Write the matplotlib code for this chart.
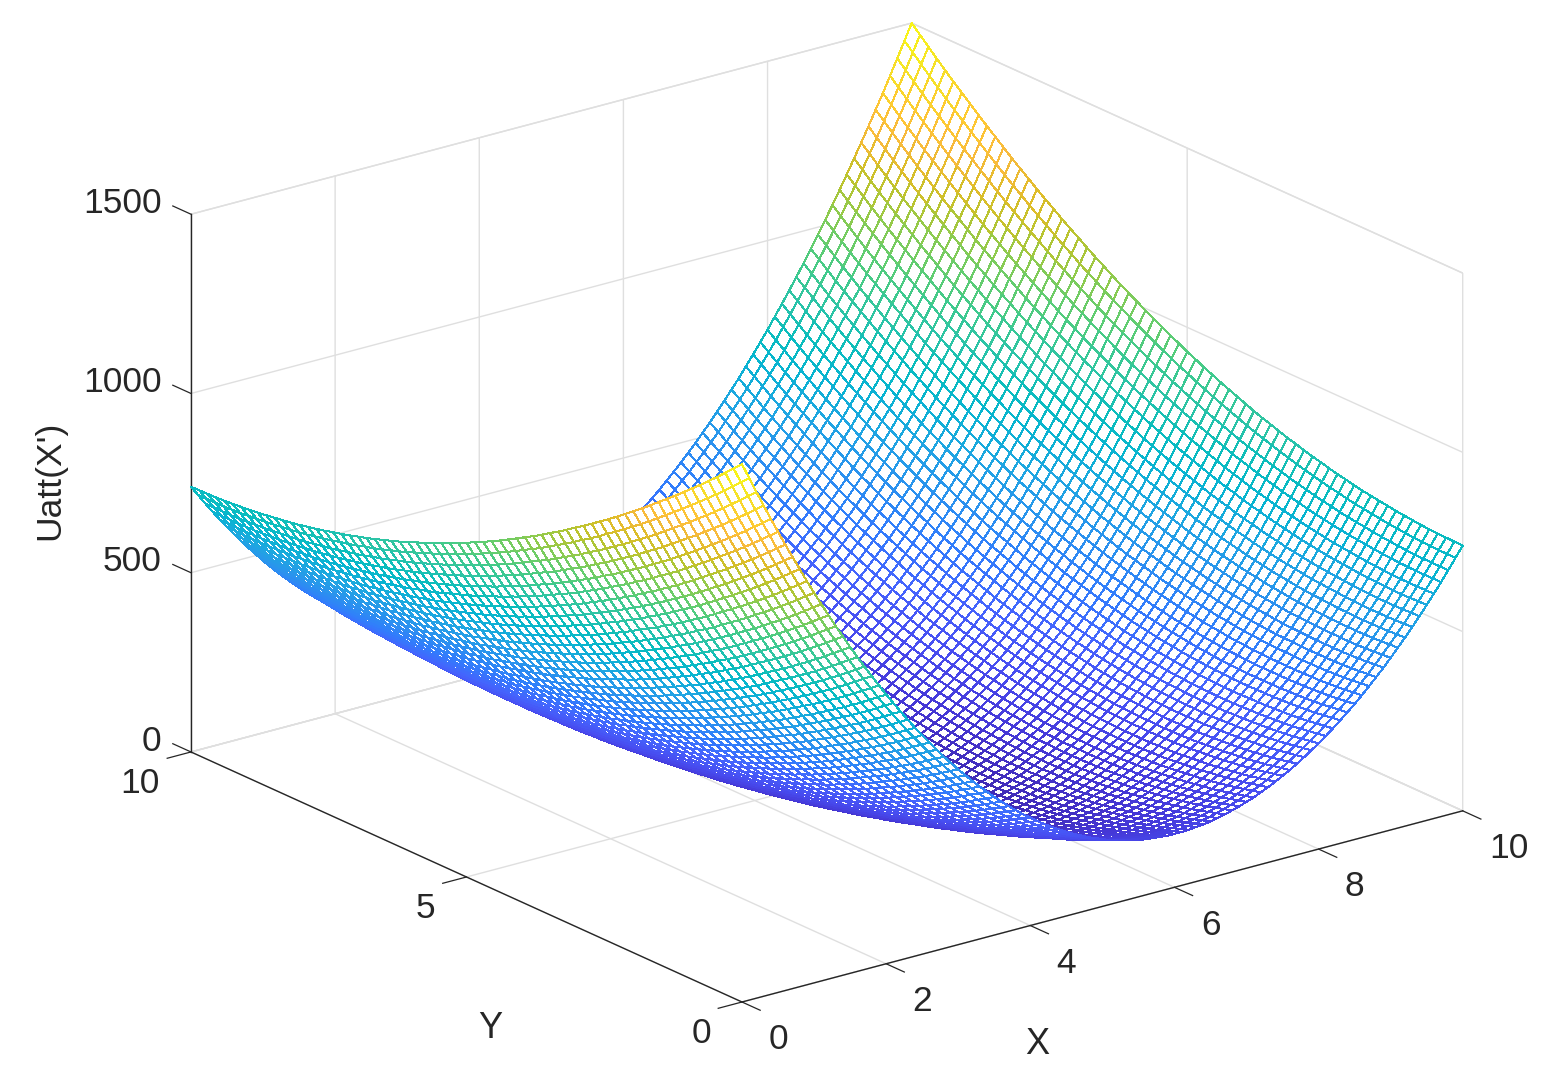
#!/usr/bin/env python

import numpy as np
import matplotlib
matplotlib.use('Agg')
import matplotlib.pyplot as plt
from matplotlib.colors import LinearSegmentedColormap
from mpl_toolkits.mplot3d import proj3d

x_ticks = [0, 2, 4, 6, 8, 10]
y_ticks = [0, 5, 10]
z_ticks = [0, 500, 1000, 1500]

# heights along the y=0 edge, one per mesh line in x
u_edge_y0 = [1500, 1456, 1412, 1369, 1326, 1285, 1244, 1204, 1165, 1126,
             1088, 1051, 1015, 979, 945, 910, 877, 845, 813, 782,
             751, 722, 693, 665, 637, 611, 585, 560, 535, 512,
             489, 467, 445, 425, 405, 385, 367, 349, 332, 316,
             301, 286, 272, 259, 247, 235, 224, 214, 204, 196,
             188, 180, 174, 168, 163, 159, 155, 153, 151, 149,
             149, 149, 150, 152, 154, 157, 161, 166, 172, 178,
             185, 192, 201, 210, 220, 231, 242, 254, 267, 281,
             295, 310, 326, 343, 360, 378, 397, 417, 437, 458,
             480, 503, 526, 550, 575, 601, 627, 654, 682, 711, 740]
# same along the y=10 edge
u_edge_y10 = [740, 711, 682, 654, 627, 601, 575, 550, 526, 503,
              480, 458, 437, 417, 397, 378, 360, 343, 326, 310,
              295, 281, 267, 254, 242, 231, 220, 210, 201, 192,
              185, 178, 172, 166, 161, 157, 154, 152, 150, 149,
              149, 149, 151, 153, 155, 159, 163, 168, 174, 180,
              188, 196, 204, 214, 224, 235, 247, 259, 272, 286,
              301, 316, 332, 349, 367, 385, 405, 425, 445, 467,
              489, 512, 535, 560, 585, 611, 637, 665, 693, 722,
              751, 782, 813, 845, 877, 910, 945, 979, 1015, 1051,
              1088, 1126, 1165, 1204, 1244, 1285, 1326, 1369, 1412, 1456, 1500]
# how far the surface sags below the straight edge-to-edge line, along y
u_sag_y = [0, 11, 22, 33, 43, 53, 62, 71, 80, 88, 96, 104, 112, 119, 125,
           132, 138, 143, 149, 154, 158, 163, 167, 170, 174, 177, 179, 181,
           183, 185, 186, 187, 187, 188, 187, 187, 186, 185, 183, 181, 179,
           177, 174, 170, 167, 163, 158, 154, 149, 143, 138, 132, 125, 119,
           112, 104, 96, 88, 80, 71, 62, 53, 43, 33, 22, 11, 0]

parula_stops = [0, 4, 8, 12, 16, 20, 24, 28, 31, 34, 37, 40, 43, 46, 49, 52,
                55, 59, 63]
parula_colors = [(0.2422, 0.1504, 0.6603), (0.2706, 0.2147, 0.8364),
                 (0.2813, 0.3006, 0.9414), (0.2699, 0.3892, 0.9906),
                 (0.1963, 0.4847, 0.9892), (0.1687, 0.5703, 0.9359),
                 (0.1248, 0.6459, 0.8883), (0.0297, 0.7082, 0.8163),
                 (0.0433, 0.7411, 0.7394), (0.1717, 0.7670, 0.6554),
                 (0.2470, 0.7918, 0.5567), (0.3909, 0.8029, 0.4354),
                 (0.5616, 0.7942, 0.3045), (0.7242, 0.7698, 0.1910),
                 (0.8634, 0.7406, 0.1596), (0.9728, 0.7299, 0.2394),
                 (0.9952, 0.7861, 0.1967), (0.9610, 0.8890, 0.1537),
                 (0.9769, 0.9839, 0.0805)]

FIG_W, FIG_H = 1565, 1086
TEXT = '#262626'
GRID = '#dfdfdf'
TICK_LEN = 0.33

plt.rcParams['font.family'] = ['Liberation Sans', 'DejaVu Sans']


def toPixels(ax, x, y, z):
    px, py, _ = proj3d.proj_transform(x, y, z, ax.get_proj())
    return ax.transData.transform((px, py))


def placeAxes(fig, ax, front, right):
    # move the axes so the floor corners land on the wanted pixels
    fig.canvas.draw()
    a = toPixels(ax, 0, 0, 0)
    b = toPixels(ax, 10, 0, 0)
    k = (right[0] - front[0]) / (b[0] - a[0])
    pos = ax.get_position()
    left = pos.x0 * FIG_W
    bottom = pos.y0 * FIG_H
    new_left = front[0] - (a[0] - left) * k
    new_bottom = front[1] - (a[1] - bottom) * k
    ax.set_position([new_left / FIG_W, new_bottom / FIG_H,
                     pos.width * k, pos.height * k])


def surfacePlot():
    fig = plt.figure(figsize=(FIG_W / 100, FIG_H / 100), dpi=100)
    ax = fig.add_axes([0.2, 0.1, 0.5, 0.5 * FIG_W / FIG_H], projection='3d',
                      proj_type='ortho')
    ax.view_init(elev=20.3, azim=232.6)
    ax.set_box_aspect((1, 1, 0.632))

    x = np.linspace(0, 10, len(u_edge_y0))
    y = np.linspace(0, 10, len(u_sag_y))
    X, Y = np.meshgrid(x, y)
    w = y / 10
    Z = (np.outer(1 - w, u_edge_y0) + np.outer(w, u_edge_y10)
         - np.array(u_sag_y)[:, None])

    cmap = LinearSegmentedColormap.from_list(
        'parula', [(s / 63, c) for s, c in zip(parula_stops, parula_colors)])
    cells = (Z[:-1, :-1] + Z[1:, :-1] + Z[:-1, 1:] + Z[1:, 1:]) / 4
    colors = cmap((cells.ravel() - Z.min()) / (Z.max() - Z.min()))

    surf = ax.plot_surface(X, Y, Z, rstride=1, cstride=1, color='white',
                           shade=False, linewidth=0.72, antialiased=False)
    surf.set_edgecolor(colors)

    ax.set_xlim(0, 10, view_margin=0)
    ax.set_ylim(0, 10, view_margin=0)
    ax.set_zlim(0, 1500, view_margin=0)
    ax.set_xticks(x_ticks)
    ax.set_yticks(y_ticks)
    ax.set_zticks(z_ticks)
    ax.tick_params(labelsize=25.5, labelcolor=TEXT)
    ax.tick_params(axis='x', pad=16.5)
    ax.tick_params(axis='y', pad=14)
    ax.tick_params(axis='z', pad=3.8)
    for label in ax.get_xticklabels():
        label.set_ha('left')
        label.set_va('center')
    for label in ax.get_yticklabels():
        label.set_ha('right')
        label.set_va('center')
    for label in ax.get_zticklabels():
        label.set_ha('right')
        label.set_va('baseline')

    for axis in (ax.xaxis, ax.yaxis, ax.zaxis):
        axis.set_pane_color((1, 1, 1, 1))
        axis.pane.set_edgecolor(GRID)
        axis.line.set_color(TEXT)
        axis.line.set_linewidth(1.0)
        axis._axinfo['grid'].update(color=GRID, linewidth=1.0)
        axis._axinfo['tick'].update(inward_factor=0, outward_factor=0)

    # tick marks stick out along the neighbouring floor edge, like the original
    for t in x_ticks:
        ax.plot([t, t], [0, -TICK_LEN], [0, 0], color=TEXT, lw=0.9)
    for t in y_ticks:
        ax.plot([0, -TICK_LEN], [t, t], [0, 0], color=TEXT, lw=0.9)
    for t in z_ticks:
        ax.plot([0, 0], [10, 10 + TICK_LEN], [t, t], color=TEXT, lw=0.9)

    placeAxes(fig, ax, (742, FIG_H - 1002), (1462.7, FIG_H - 811.7))

    fig.text(1037 / FIG_W, 1 - 1045 / FIG_H, 'X', fontsize=26, color=TEXT,
             ha='center', va='center')
    fig.text(490 / FIG_W, 1 - 1029 / FIG_H, 'Y', fontsize=26, color=TEXT,
             ha='center', va='center')
    fig.text(50 / FIG_W, 1 - 480 / FIG_H, "Uatt(X')", fontsize=25.5,
             color=TEXT, rotation=90, ha='center', va='center')

    fig.savefig('out.png', dpi=100)


if __name__ == '__main__':
    surfacePlot()
